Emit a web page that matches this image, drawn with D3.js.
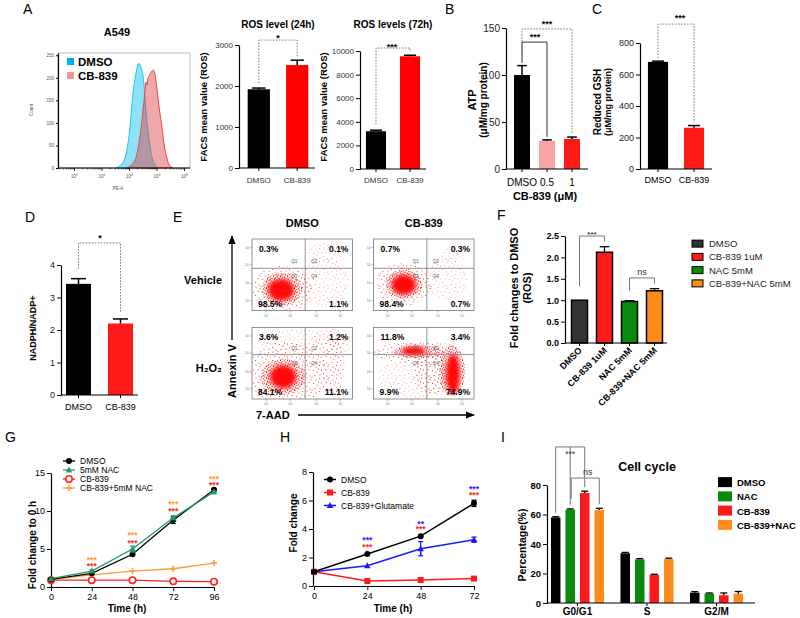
<!DOCTYPE html>
<html><head><meta charset="utf-8">
<script src="https://cdn.jsdelivr.net/npm/d3@7"></script>
<style>body{margin:0;background:#fff}</style>
</head><body><svg id="c" width="800" height="618"></svg>
<script>
// ================= DATA =================
// A: flow histogram (log10 intensity, count)
const histDMSOLog   = [2.50,2.70,2.87,3.00,3.12,3.25,3.34,3.42,3.49,3.55,3.60,3.70,3.78,3.90,4.04];
const histDMSOCount = [0,8,29,80,161,215,232,222,206,165,124,70,35,10,0];
const histCBLog     = [2.87,3.05,3.23,3.33,3.42,3.52,3.60,3.64,3.67,3.72,3.78,3.86,3.92,3.97,4.08,4.18,4.26,4.36,4.44,4.59];
const histCBCount   = [0,6,22,50,88,145,190,184,199,205,212,217,210,190,133,90,51,22,7,0];
const histXTicks = [1,2,3,4,5];
const histYTicks = [0,50,100,150,200,250];
const rosGroups = ["DMSO","CB-839"];
const ros24Mean = [1920,2510], ros24Sem = [30,120], ros24Ticks = [0,1000,2000,3000];
const ros72Mean = [3200,9550], ros72Sem = [90,90], ros72Ticks = [0,2000,4000,6000,8000,10000];
// B
const atpGroups = ["DMSO","0.5","1"], atpMean = [100,30,32], atpSem = [10,1,2], atpTicks = [0,50,100,150];
// C
const gshGroups = ["DMSO","CB-839"], gshMean = [680,262], gshSem = [5,14], gshTicks = [0,200,400,600,800];
// D
const nadGroups = ["DMSO","CB-839"], nadMean = [3.42,2.2], nadSem = [0.16,0.14], nadTicks = [0,1,2,3,4];
// E
const eCols = ["DMSO","CB-839"], eRows = ["Vehicle","H₂O₂"];
const eQ1 = ["0.3%","0.7%","3.6%","11.8%"];
const eQ2 = ["0.1%","0.3%","1.2%","3.4%"];
const eQ3 = ["98.5%","98.4%","84.1%","9.9%"];
const eQ4 = ["1.1%","0.7%","11.1%","74.9%"];
const eGateU = 0.53, eGateV = [0.59, 0.62];
// cell populations: [plot, u, v, ru, rv, density level]
const eClusters = [
 [0,.72,.40,.25,.35,0],[0,.75,.80,.20,.15,0],[0,.30,.30,.30,.33,1],[0,.30,.30,.20,.23,2],[0,.29,.29,.13,.15,3],
 [1,.72,.45,.22,.30,0],[1,.80,.78,.12,.10,0],[1,.30,.37,.28,.30,1],[1,.30,.37,.18,.20,2],[1,.30,.36,.12,.14,3],
 [2,.50,.82,.45,.15,0],[2,.80,.80,.20,.20,0],[2,.35,.35,.40,.45,1],[2,.80,.45,.12,.40,1],[2,.31,.31,.22,.25,2],[2,.31,.31,.13,.16,3],
 [3,.40,.30,.35,.30,0],[3,.60,.35,.20,.30,1],[3,.45,.65,.45,.15,1],[3,.45,.66,.25,.09,2],[3,.40,.67,.12,.06,3],[3,.78,.40,.13,.35,2],[3,.79,.35,.07,.28,3]
];
// F
const fGroups = ["DMSO","CB-839 1uM","NAC 5mM","CB-839+NAC 5mM"];
const fMean = [1.0,2.12,0.97,1.22], fSem = [0,0.13,0.02,0.05], fTicks = [0,0.5,1,1.5,2,2.5];
const fColors = ["#333333","#ff1a1a","#0a8a0a","#ff8c1a"];
// G
const gTimes = [0,24,48,72,96];
const gDMSO = [1.0,1.8,4.3,8.8,12.8], gDMSOSem = [0.05,0.1,0.15,0.45,0.15];
const gNAC = [1.1,2.1,5.0,9.1,12.5], gNACSem = [0.05,0.15,0.4,0.25,0.15];
const gCB = [0.9,0.9,0.9,0.75,0.7];
const gCBNAC = [1.0,1.6,2.1,2.4,3.15];
const gStarRed = [null,3.0,6.05,10.3,13.7], gStarOrange = [null,3.9,7.1,11.2,14.5];
const gYTicks = [0,5,10,15];
// H
const hTimes = [0,24,48,72];
const hDMSO = [1,2.25,3.5,5.8], hDMSOSem = [0,0.08,0.06,0.22];
const hCB = [1,0.35,0.42,0.52], hCBSem = [0,0.05,0.05,0.05];
const hGlu = [1,1.42,2.62,3.25], hGluSem = [0,0.05,0.5,0.18];
const hStarBlue = ["","***","**","***"], hStarBlueY = [null,3.37,4.5,6.95];
const hStarRed = ["","***","***","***"], hStarRedY = [null,2.88,4.14,6.53];
const hYTicks = [0,2,4,6,8];
// I
const iPhases = ["G0/G1","S","G2/M"], iGroups = ["DMSO","NAC","CB-839","CB-839+NAC"];
const iDMSO = [58,33.7,7], iNAC = [63.3,29.6,6.4], iCB = [74.6,19,5.3], iCBNAC = [63,29.8,6.3];
const iDMSOSem = [0.5,0.6,0.7], iNACSem = [0.5,0.5,0.4], iCBSem = [1.2,0.5,1.5], iCBNACSem = [1.2,0.6,1.5];
const iColors = ["#000000","#0a8a0a","#ff1a1a","#ff8c1a"];
const iTicks = [0,20,40,60,80];

// ================= HELPERS =================
const FONT = 'Arial, "Liberation Sans", Helvetica, sans-serif';
const svg = d3.select("#c").attr("font-family", FONT);
const defs = svg.append("defs");

function txt(x,y,s,o={}) {
  const t = svg.append("text").attr("x",x).attr("y",y).text(s)
    .attr("font-size",o.fs||10).attr("font-weight",o.bold?"bold":"normal")
    .attr("text-anchor",o.anchor||"start").attr("fill",o.fill||"#000");
  if (o.rot) t.attr("transform",`rotate(${o.rot},${x},${y})`);
  return t;
}
function stars(x,cy,s,o={}) { const fs=o.fs||9; return txt(x,cy+fs*0.62,s,Object.assign({anchor:"middle",fs:fs,bold:true},o)); }
function yAxis(scale,x,ticks,o={}) {
  const ax = d3.axisLeft(scale).tickValues(ticks).tickSize(o.ts||4).tickSizeOuter(0).tickPadding(o.pad||2)
     .tickFormat(o.fmt||(d=>d));
  const a = svg.append("g").attr("transform",`translate(${x},0)`).call(ax)
    .attr("font-family",FONT).attr("font-size",o.fs||9).attr("font-weight",o.bold?"bold":"normal");
  a.selectAll("text").attr("fill",o.color||"#000");
  a.select(".domain").attr("stroke","#000").attr("stroke-width",o.sw||1.2);
  a.selectAll(".tick line").attr("stroke","#000").attr("stroke-width",1);
  return a;
}
function hline(x1,x2,y,sw) { svg.append("line").attr("x1",x1).attr("x2",x2).attr("y1",y).attr("y2",y).attr("stroke","#000").attr("stroke-width",sw||1.2); }
function errBar(g,cx,y1,y2,cw,color,sw) {
  g.append("line").attr("x1",cx).attr("x2",cx).attr("y1",y1).attr("y2",y2).attr("stroke",color||"#000").attr("stroke-width",sw||1.3);
  g.append("line").attr("x1",cx-cw).attr("x2",cx+cw).attr("y1",y2).attr("y2",y2).attr("stroke",color||"#000").attr("stroke-width",sw||1.3);
}
function bars(cfg) {
  const x = d3.scaleBand().domain(cfg.cats).range(cfg.range).paddingInner(cfg.pi).paddingOuter(cfg.po);
  const g = svg.append("g");
  g.selectAll("rect").data(cfg.cats).join("rect")
    .attr("x",d=>x(d)).attr("width",x.bandwidth())
    .attr("y",(d,i)=>cfg.y(cfg.vals[i])).attr("height",(d,i)=>cfg.y(0)-cfg.y(cfg.vals[i]))
    .attr("fill",(d,i)=>cfg.colors[i]).attr("stroke",cfg.stroke||"none").attr("stroke-width",cfg.sw||0);
  cfg.cats.forEach((d,i)=>{
    if (!cfg.errs[i]) return;
    const cx = x(d)+x.bandwidth()/2;
    errBar(g,cx,cfg.y(cfg.vals[i]),cfg.y(cfg.vals[i]+cfg.errs[i]),x.bandwidth()*(cfg.capF||0.3),"#000",cfg.esw||1.5);
  });
  hline(cfg.axisX, cfg.axisEnd, cfg.y(0), 1.2);
  cfg.cats.forEach(d=>{ const cx=x(d)+x.bandwidth()/2;
    svg.append("line").attr("x1",cx).attr("x2",cx).attr("y1",cfg.y(0)).attr("y2",cfg.y(0)+3).attr("stroke","#000");
    if (cfg.labelY) txt(cx,cfg.labelY,d,{anchor:"middle",fs:cfg.lfs||9,fill:cfg.lcolor||"#000",bold:cfg.lbold});
  });
  return x;
}
function bracket(xA,yA,xB,yB,yTop,dashed,color) {
  const p = svg.append("path").attr("d",`M${xA},${yA}V${yTop}H${xB}V${yB}`)
    .attr("fill","none").attr("stroke",color||"#777").attr("stroke-width",1);
  if (dashed) p.attr("stroke-dasharray","1.5,1.5");
}

// ================= PANEL A =================
txt(23,14,"A",{fs:14});
txt(117,36,"A549",{fs:11,bold:true,anchor:"middle"});
{
  const hx = d3.scaleLog().domain([10**0.4,10**5.2]).range([58,190]);
  const hy = d3.scaleLinear().domain([0,255]).range([168,53]);
  svg.append("rect").attr("x",58).attr("y",53).attr("width",132).attr("height",115).attr("fill","none").attr("stroke","#aaa").attr("stroke-width",0.8);
  const area = d3.area().x(d=>hx(10**d[0])).y0(hy(0)).y1(d=>hy(d[1])).curve(d3.curveMonotoneX);
  const dmso = histDMSOLog.map((l,i)=>[l,histDMSOCount[i]]);
  const cb = histCBLog.map((l,i)=>[l,histCBCount[i]]);
  svg.append("path").attr("d",area(dmso)).attr("fill","rgba(0,190,240,0.45)").attr("stroke","#1ec4f2").attr("stroke-width",1);
  svg.append("path").attr("d",area(cb)).attr("fill","rgba(220,60,60,0.45)").attr("stroke","#f04545").attr("stroke-width",1);
  yAxis(hy,58,histYTicks,{fs:4.5,ts:2,color:"#555",sw:1.2});
  const minor=[]; for(let e=0;e<6;e++) for(let k=2;k<10;k++){const v=k*10**e; if(v>10**0.4&&v<10**5.2) minor.push(v);}
  const bx = svg.append("g").attr("transform","translate(0,168)");
  bx.append("line").attr("x1",58).attr("x2",190).attr("stroke","#000").attr("stroke-width",1.2);
  bx.selectAll("line.mi").data(minor).join("line").attr("class","mi").attr("x1",d=>hx(d)).attr("x2",d=>hx(d)).attr("y2",1.5).attr("stroke","#000").attr("stroke-width",0.6);
  bx.selectAll("line.ma").data(histXTicks).join("line").attr("class","ma").attr("x1",d=>hx(10**d)).attr("x2",d=>hx(10**d)).attr("y2",3).attr("stroke","#000").attr("stroke-width",0.8);
  histXTicks.forEach(d=>{
    const t = txt(hx(10**d),178,"10",{fs:4.5,anchor:"middle",fill:"#555"});
    t.append("tspan").attr("dy",-2).attr("font-size",3.5).text(d);
  });
  txt(33,110,"Count",{fs:4.5,rot:-90,anchor:"middle",fill:"#555"});
  txt(118,190,"PE-A",{fs:4.5,anchor:"middle",fill:"#555"});
  svg.append("rect").attr("x",67).attr("y",58).attr("width",7).attr("height",7).attr("fill","#00aeef");
  svg.append("rect").attr("x",67).attr("y",72).attr("width",7).attr("height",7).attr("fill","#e89a9a");
  txt(78,66,"DMSO",{fs:11.5,bold:true});
  txt(78,80,"CB-839",{fs:11.5,bold:true});
}
// ROS 24h
{
  const y = d3.scaleLinear().domain([0,3000]).range([168,45]);
  yAxis(y,239,ros24Ticks,{fs:8,color:"#333"});
  const x = bars({cats:rosGroups,vals:ros24Mean,errs:ros24Sem,colors:["#000","#ff0000"],range:[240,316],pi:0.42,po:0.2,y:y,axisX:239,axisEnd:315,labelY:183,lfs:8,lcolor:"#333"});
  txt(278,28,"ROS level (24h)",{fs:10,bold:true,anchor:"middle"});
  txt(207,107,"FACS mean value (ROS)",{fs:9.5,bold:true,rot:-90,anchor:"middle"});
  const c0=x("DMSO")+x.bandwidth()/2, c1=x("CB-839")+x.bandwidth()/2;
  bracket(c0,y(ros24Mean[0]+ros24Sem[0])-5,c1,y(ros24Mean[1]+ros24Sem[1])-3,y(3120),true);
  stars((c0+c1)/2,35,"*");
}
// ROS 72h
{
  const y = d3.scaleLinear().domain([0,10000]).range([169,51]);
  yAxis(y,360,ros72Ticks,{fs:8,color:"#333"});
  const x = bars({cats:rosGroups,vals:ros72Mean,errs:ros72Sem,colors:["#000","#ff0000"],range:[360,426],pi:0.41,po:0.175,y:y,axisX:360,axisEnd:426,labelY:183,lfs:8,lcolor:"#333"});
  txt(393,28,"ROS levels (72h)",{fs:10,bold:true,anchor:"middle"});
  txt(327,107,"FACS mean value (ROS)",{fs:9.5,bold:true,rot:-90,anchor:"middle"});
  const c0=x("DMSO")+x.bandwidth()/2, c1=x("CB-839")+x.bandwidth()/2;
  bracket(c0,y(ros72Mean[0]+ros72Sem[0])-6,c1,y(ros72Mean[1]+ros72Sem[1])-3,y(10250),true);
  stars(392,44,"***");
}
// ================= PANEL B =================
txt(445,14,"B",{fs:14});
{
  const y = d3.scaleLinear().domain([0,150]).range([169,28]);
  yAxis(y,506,atpTicks,{fs:10,color:"#222"});
  const x = bars({cats:atpGroups,vals:atpMean,errs:atpSem,colors:["#000","#f9a3a3","#ff1a1a"],range:[506,588],pi:0.36,po:0.32,y:y,axisX:506,axisEnd:588,labelY:186,lfs:10});
  txt(545,200,"CB-839 (μM)",{fs:11,bold:true,anchor:"middle"});
  txt(476,100,"ATP",{fs:11,bold:true,rot:-90,anchor:"middle"});
  txt(487,100,"(μM/mg protein)",{fs:10,bold:true,rot:-90,anchor:"middle"});
  const c=atpGroups.map(d=>x(d)+x.bandwidth()/2);
  bracket(c[0],y(atpMean[0]+atpSem[0])-3,c[1],y(atpMean[1]+atpSem[1])-3,y(135),false,"#333");
  bracket(c[0],y(atpMean[0]+atpSem[0])-3,c[2],y(atpMean[2]+atpSem[2])-3,y(149),true);
  stars(535,34,"***");
  stars(547,21,"***");
}
// ================= PANEL C =================
txt(592,14,"C",{fs:14});
{
  const y = d3.scaleLinear().domain([0,800]).range([169,43]);
  yAxis(y,640,gshTicks,{fs:9,color:"#222"});
  const x = bars({cats:gshGroups,vals:gshMean,errs:gshSem,colors:["#000","#ff1a1a"],range:[640,712],pi:0.44,po:0.22,y:y,axisX:640,axisEnd:712,labelY:183,lfs:9});
  txt(601,102,"Reduced GSH",{fs:10,bold:true,rot:-90,anchor:"middle"});
  txt(611,102,"(μM/mg protein)",{fs:9,bold:true,rot:-90,anchor:"middle"});
  const c0=x("DMSO")+x.bandwidth()/2, c1=x("CB-839")+x.bandwidth()/2;
  bracket(c0,y(gshMean[0]+gshSem[0])-3,c1,y(gshMean[1]+gshSem[1])-3,y(920),true);
  stars(680,15,"***");
}
// ================= PANEL D =================
txt(25,222,"D",{fs:14});
{
  const y = d3.scaleLinear().domain([0,4]).range([395,265]);
  yAxis(y,61,nadTicks,{fs:9,color:"#222"});
  const x = bars({cats:nadGroups,vals:nadMean,errs:nadSem,colors:["#000","#ff1a1a"],range:[61,138],pi:0.405,po:0.119,y:y,axisX:61,axisEnd:138,labelY:410,lfs:9});
  txt(36,328,"NADPH/NADP+",{fs:9,bold:true,rot:-90,anchor:"middle"});
  const c0=x("DMSO")+x.bandwidth()/2, c1=x("CB-839")+x.bandwidth()/2;
  bracket(c0,y(nadMean[0]+nadSem[0])-10,c1,y(nadMean[1]+nadSem[1])-6,y(4.68),true);
  stars(100,235,"*");
}
// ================= PANEL E =================
txt(173,222,"E",{fs:14});
{
  const sp = defs.append("pattern").attr("id","spr").attr("patternUnits","userSpaceOnUse").attr("width",17).attr("height",13);
  [[1,1],[5,2.5],[3,5.5],[7.5,6.5],[0.5,9.5],[6,0.2],[10,3],[13.5,1.5],[11,8],[15.5,6],[9,11.5],[14,11],[4,12],[12.5,5]].forEach(p=>sp.append("circle").attr("cx",p[0]).attr("cy",p[1]).attr("r",0.55).attr("fill","#ff2a2a"));
  const dp = defs.append("pattern").attr("id","dns").attr("patternUnits","userSpaceOnUse").attr("width",7).attr("height",6);
  [[0.5,0.5],[2.8,1.5],[1.5,3.2],[3.9,3.9],[4.4,0.8],[6,2.5],[5.5,5],[0.8,5.2],[2.7,4.8]].forEach(p=>dp.append("circle").attr("cx",p[0]).attr("cy",p[1]).attr("r",0.6).attr("fill","#ff1010"));
  defs.append("filter").attr("id","blr").attr("x","-50%").attr("y","-50%").attr("width","200%").attr("height","200%")
    .append("feGaussianBlur").attr("stdDeviation",2.2);
  const eCol = d3.scaleBand().domain(eCols).range([252,474]).paddingInner(0.174);
  const eRow = d3.scaleBand().domain(eRows).range([239,399]).paddingInner(0.19);
  eCols.forEach(c=>txt(eCol(c)+eCol.bandwidth()/2,227,c,{fs:11,bold:true,anchor:"middle"}));
  eRows.forEach(r=>txt(222,eRow(r)+eRow.bandwidth()/2+9,r,{fs:11,bold:true,anchor:"end"}));
  eRows.forEach((r,ri)=>eCols.forEach((c,ci)=>{
    const p=ri*2+ci, fx=eCol(c), fy=eRow(r), w=eCol.bandwidth(), h=eRow.bandwidth();
    const u=d3.scaleLinear().domain([0,1]).range([fx,fx+w]);
    const v=d3.scaleLinear().domain([0,1]).range([fy+h,fy]);
    defs.append("clipPath").attr("id","cp"+p).append("rect").attr("x",fx).attr("y",fy).attr("width",w).attr("height",h);
    const g=svg.append("g").attr("clip-path",`url(#cp${p})`);
    const cl=eClusters.filter(d=>d[0]===p).sort((a,b)=>a[5]-b[5]);
    g.selectAll("ellipse").data(cl).join("ellipse")
      .attr("cx",d=>u(d[1])).attr("cy",d=>v(d[2])).attr("rx",d=>d[3]*w).attr("ry",d=>d[4]*h)
      .attr("fill",d=>d[5]===3?"#ff0000":d[5]===2?"url(#dns)":"url(#spr)")
      .attr("opacity",d=>d[5]===0?0.5:d[5]===3?0.95:1)
      .attr("filter",d=>d[5]===3?"url(#blr)":null);
    svg.append("rect").attr("x",fx).attr("y",fy).attr("width",w).attr("height",h).attr("fill","none").attr("stroke","#777").attr("stroke-width",0.8);
    svg.append("line").attr("x1",u(eGateU)).attr("x2",u(eGateU)).attr("y1",fy).attr("y2",fy+h).attr("stroke","#777").attr("stroke-width",0.8);
    svg.append("line").attr("x1",fx).attr("x2",fx+w).attr("y1",v(eGateV[ri])).attr("y2",v(eGateV[ri])).attr("stroke","#777").attr("stroke-width",0.8);
    [0.14,0.38,0.64,0.88].forEach(t=>{
      svg.append("line").attr("x1",fx-2).attr("x2",fx).attr("y1",v(t)).attr("y2",v(t)).attr("stroke","#666").attr("stroke-width",0.5);
      svg.append("line").attr("x1",u(t)).attr("x2",u(t)).attr("y1",fy+h).attr("y2",fy+h+2).attr("stroke","#666").attr("stroke-width",0.5);
      txt(fx-3,v(t)+1,"10",{fs:3.5,anchor:"end",fill:"#777"});
      txt(u(t),fy+h+6,"10",{fs:3.5,anchor:"middle",fill:"#777"});
    });
    const gy=v(eGateV[ri]);
    txt(u(eGateU)-8,gy-5,"Q1",{fs:4.5,fill:"#555",anchor:"end"});
    txt(u(eGateU)+6,gy-5,"Q2",{fs:4.5,fill:"#555"});
    txt(u(eGateU)-8,gy+10,"Q3",{fs:4.5,fill:"#555",anchor:"end"});
    txt(u(eGateU)+6,gy+10,"Q4",{fs:4.5,fill:"#555"});
    txt(fx+7,fy+13,eQ1[p],{fs:8.5,bold:true});
    txt(fx+w-4,fy+13,eQ2[p],{fs:8.5,bold:true,anchor:"end"});
    txt(fx+6,fy+h-4,eQ3[p],{fs:8.5,bold:true});
    txt(fx+w-4,fy+h-4,eQ4[p],{fs:8.5,bold:true,anchor:"end"});
  }));
  defs.append("marker").attr("id","arr").attr("viewBox","0 0 10 10").attr("refX",9).attr("refY",5).attr("markerWidth",7).attr("markerHeight",7).attr("orient","auto-start-reverse")
    .append("path").attr("d","M0,1L10,5L0,9Z").attr("fill","#000");
  svg.append("line").attr("x1",232).attr("x2",232).attr("y1",340).attr("y2",236).attr("stroke","#000").attr("stroke-width",1.3).attr("marker-end","url(#arr)");
  txt(236,371,"Annexin V",{fs:11,bold:true,rot:-90,anchor:"middle"});
  txt(256,419,"7-AAD",{fs:11,bold:true});
  svg.append("line").attr("x1",298).attr("x2",474).attr("y1",415).attr("y2",415).attr("stroke","#000").attr("stroke-width",1.3).attr("marker-end","url(#arr)");
}
// ================= PANEL F =================
txt(497,220,"F",{fs:14});
{
  const y = d3.scaleLinear().domain([0,2.5]).range([343,236]);
  yAxis(y,565,fTicks,{fs:9,bold:true,fmt:d3.format(".1f")});
  const x = bars({cats:fGroups,vals:fMean,errs:fSem,colors:fColors,range:[567,667],pi:0.36,po:0.18,y:y,axisX:565,axisEnd:667,stroke:"#000",sw:1.5,esw:1.3});
  fGroups.forEach(d=>{ const cx=x(d)+x.bandwidth()/2+3;
    txt(cx,351,d,{fs:9,bold:true,anchor:"end",rot:-45}); });
  txt(518,288,"Fold changes to DMSO",{fs:11,bold:true,rot:-90,anchor:"middle"});
  txt(531,288,"(ROS)",{fs:11,bold:true,rot:-90,anchor:"middle"});
  const c=fGroups.map(d=>x(d)+x.bandwidth()/2);
  bracket(c[0],y(fMean[0])-14,c[1],y(fMean[1]+fSem[1])-5,y(2.5),false,"#777");
  stars((c[0]+c[1])/2,232,"***",{fs:8,bold:false});
  bracket(c[2],y(fMean[2]+fSem[2])-10,c[3],y(fMean[3]+fSem[3])-5,y(1.52),false,"#777");
  txt((c[2]+c[3])/2,275,"ns",{fs:9,anchor:"middle",fill:"#333"});
  const ly = d3.scaleBand().domain(fGroups).range([237,290]);
  fGroups.forEach((d,i)=>{
    svg.append("rect").attr("x",692).attr("y",ly(d)+ly.bandwidth()/2-3.5).attr("width",11).attr("height",7).attr("fill",fColors[i]).attr("stroke","#000").attr("stroke-width",1);
    txt(709,ly(d)+ly.bandwidth()/2+3.5,d,{fs:9.5,fill:"#222"});
  });
}
// ================= PANEL G =================
txt(5,442,"G",{fs:14});
{
  const x = d3.scaleLinear().domain([0,96]).range([51,214]);
  const y = d3.scaleLinear().domain([0,15]).range([587,473]);
  yAxis(y,51,gYTicks,{fs:9});
  const ax = svg.append("g").attr("transform","translate(0,587)").call(d3.axisBottom(x).tickValues(gTimes).tickSize(4).tickSizeOuter(0))
    .attr("font-family",FONT).attr("font-size",9);
  ax.select(".domain").attr("stroke-width",1.2);
  const line = d3.line().x((d,i)=>x(gTimes[i])).y(d=>y(d));
  const series = [
    {v:gCBNAC,c:"#ff9a2e",m:"plus",s:null,name:"CB-839+5mM NAC"},
    {v:gCB,c:"#ff2020",m:"ocircle",s:null,name:"CB-839"},
    {v:gDMSO,c:"#000",m:"circle",s:gDMSOSem,name:"DMSO"},
    {v:gNAC,c:"#1f9a6a",m:"tri",s:gNACSem,name:"5mM NAC"}];
  function marker(g,cx,cy,m,c){
    if(m==="circle") g.append("circle").attr("cx",cx).attr("cy",cy).attr("r",3).attr("fill",c);
    else if(m==="ocircle") g.append("circle").attr("cx",cx).attr("cy",cy).attr("r",3.2).attr("fill","#fff").attr("stroke",c).attr("stroke-width",1.6);
    else if(m==="tri") g.append("path").attr("d",`M${cx},${cy-3.5}L${cx+3.2},${cy+2.5}L${cx-3.2},${cy+2.5}Z`).attr("fill",c);
    else if(m==="plus") g.append("path").attr("d",`M${cx-3},${cy}H${cx+3}M${cx},${cy-3}V${cy+3}`).attr("stroke",c).attr("stroke-width",1.5);
  }
  series.forEach(s=>{
    const g=svg.append("g");
    g.append("path").attr("d",line(s.v)).attr("fill","none").attr("stroke",s.c).attr("stroke-width",1.3);
    s.v.forEach((v,i)=>{
      if(s.s&&s.s[i]>0.1){ errBar(g,x(gTimes[i]),y(v-s.s[i]),y(v+s.s[i]),2.5,s.c,1.2); errBar(g,x(gTimes[i]),y(v),y(v-s.s[i]),2.5,s.c,1.2);}
      marker(g,x(gTimes[i]),y(v),s.m,s.c);
    });
  });
  gTimes.forEach((t,i)=>{
    if(gStarRed[i]==null) return;
    stars(x(t),y(gStarRed[i]),"***",{fill:"#ff2020",fs:8.5});
    stars(x(t),y(gStarOrange[i]),"***",{fill:"#ff9a2e",fs:8.5});
  });
  const leg=[series[2],series[3],series[1],series[0]];
  const lg = d3.scaleBand().domain(leg.map(d=>d.name)).range([456.5,492.5]);
  leg.forEach(s=>{
    const cy=lg(s.name)+lg.bandwidth()/2, g=svg.append("g");
    g.append("line").attr("x1",63).attr("x2",75).attr("y1",cy).attr("y2",cy).attr("stroke",s.c).attr("stroke-width",1.3);
    marker(g,69,cy,s.m,s.c);
    txt(80,cy+3,s.name,{fs:8.5});
  });
  txt(36,545,"Fold change to 0 h",{fs:10,bold:true,rot:-90,anchor:"middle"});
  txt(127,612,"Time (h)",{fs:10,bold:true,anchor:"middle"});
}
// ================= PANEL H =================
txt(280,442,"H",{fs:14});
{
  const x = d3.scaleLinear().domain([0,72]).range([314,474]);
  const y = d3.scaleLinear().domain([0,8]).range([586,472]);
  yAxis(y,313,hYTicks,{fs:9});
  const ax = svg.append("g").attr("transform","translate(0,586)").call(d3.axisBottom(x).tickValues(hTimes).tickSize(4).tickSizeOuter(0))
    .attr("font-family",FONT).attr("font-size",9);
  ax.select(".domain").attr("stroke-width",1.2);
  const line = d3.line().x((d,i)=>x(hTimes[i])).y(d=>y(d));
  const series = [
    {v:hCB,s:hCBSem,c:"#ff1a1a",m:"sq",name:"CB-839"},
    {v:hGlu,s:hGluSem,c:"#1a1aff",m:"tri",name:"CB-839+Glutamate"},
    {v:hDMSO,s:hDMSOSem,c:"#000",m:"circle",name:"DMSO"}];
  function marker(g,cx,cy,m,c){
    if(m==="circle") g.append("circle").attr("cx",cx).attr("cy",cy).attr("r",3).attr("fill",c);
    else if(m==="sq") g.append("rect").attr("x",cx-3).attr("y",cy-3).attr("width",6).attr("height",6).attr("fill",c);
    else if(m==="tri") g.append("path").attr("d",`M${cx},${cy-3.5}L${cx+3.3},${cy+2.5}L${cx-3.3},${cy+2.5}Z`).attr("fill",c);
  }
  series.forEach(s=>{
    const g=svg.append("g");
    g.append("path").attr("d",line(s.v)).attr("fill","none").attr("stroke",s.c).attr("stroke-width",1.5);
    s.v.forEach((v,i)=>{
      if(s.s[i]>0.1){ errBar(g,x(hTimes[i]),y(v-s.s[i]),y(v+s.s[i]),2.5,s.c,1.3); errBar(g,x(hTimes[i]),y(v),y(v-s.s[i]),2.5,s.c,1.3);}
      marker(g,x(hTimes[i]),y(v),s.m,s.c);
    });
  });
  hTimes.forEach((t,i)=>{
    if(hStarRedY[i]==null) return;
    stars(x(t),y(hStarBlueY[i]),hStarBlue[i],{fill:"#1a1aff",fs:8.5});
    stars(x(t),y(hStarRedY[i]),hStarRed[i],{fill:"#ff1a1a",fs:8.5});
  });
  const leg=[series[2],series[0],series[1]];
  const lg = d3.scaleBand().domain(leg.map(d=>d.name)).range([473,512]);
  leg.forEach(s=>{
    const cy=lg(s.name)+lg.bandwidth()/2, g=svg.append("g");
    g.append("line").attr("x1",324).attr("x2",336).attr("y1",cy).attr("y2",cy).attr("stroke",s.c).attr("stroke-width",1.5);
    marker(g,330,cy,s.m,s.c);
    txt(341,cy+3,s.name,{fs:8.5});
  });
  txt(297,523,"Fold change",{fs:10,bold:true,rot:-90,anchor:"middle"});
  txt(393,612,"Time (h)",{fs:10,bold:true,anchor:"middle"});
}
// ================= PANEL I =================
txt(501,442,"I",{fs:14});
{
  const y = d3.scaleLinear().domain([0,80]).range([603,485]);
  yAxis(y,547,iTicks,{fs:9.5,bold:true});
  const xo = d3.scaleBand().domain(iPhases).range([544,750]).paddingInner(0.237).paddingOuter(0.1);
  const xi = d3.scaleBand().domain(iGroups).range([0,xo.bandwidth()]).paddingInner(0.345);
  const vals=[iDMSO,iNAC,iCB,iCBNAC], sems=[iDMSOSem,iNACSem,iCBSem,iCBNACSem];
  const g=svg.append("g");
  iPhases.forEach((ph,pi)=>iGroups.forEach((gr,gi)=>{
    const x0=xo(ph)+xi(gr), v=vals[gi][pi];
    g.append("rect").attr("x",x0).attr("width",xi.bandwidth()).attr("y",y(v)).attr("height",y(0)-y(v)).attr("fill",iColors[gi]);
    errBar(g,x0+xi.bandwidth()/2,y(v),y(v+sems[gi][pi]),3.5,"#000",1.3);
  }));
  hline(547,755,603,1.2);
  iPhases.forEach(ph=>{ const cx=xo(ph)+xo.bandwidth()/2;
    svg.append("line").attr("x1",cx).attr("x2",cx).attr("y1",603).attr("y2",606).attr("stroke","#000");
    txt(cx,615,ph,{fs:10,bold:true,anchor:"middle"}); });
  txt(647,471,"Cell cycle",{fs:12.5,bold:true,anchor:"middle"});
  txt(526,545,"Percentage(%)",{fs:10.5,bold:true,rot:-90,anchor:"middle"});
  const ph=iPhases[0], cc=iGroups.map(gr=>xo(ph)+xi(gr)+xi.bandwidth()/2);
  const top=gi=>y(vals[gi][0]+sems[gi][0])-4;
  svg.append("path").attr("d",`M${cc[0]},${top(0)}V${y(105.8)}H${cc[2]}V${top(2)}M${cc[1]},${y(105.8)}V${top(1)}`).attr("fill","none").attr("stroke","#777");
  stars(cc[1],452,"***",{fs:8.5,bold:false,fill:"#333"});
  bracket(cc[1]+1,top(1)-6,cc[3],top(3),y(84.7),false,"#777");
  txt((cc[1]+cc[3])/2+3,475,"ns",{fs:9,anchor:"middle",fill:"#333"});
  const lg=d3.scaleBand().domain(iGroups).range([475,532]);
  iGroups.forEach((d,i)=>{ const cy=lg(d)+lg.bandwidth()/2;
    svg.append("rect").attr("x",718).attr("y",cy-5).attr("width",14).attr("height",10).attr("fill",iColors[i]);
    txt(737,cy+4,d,{fs:9.5,bold:true});
  });
}
</script></body></html>
